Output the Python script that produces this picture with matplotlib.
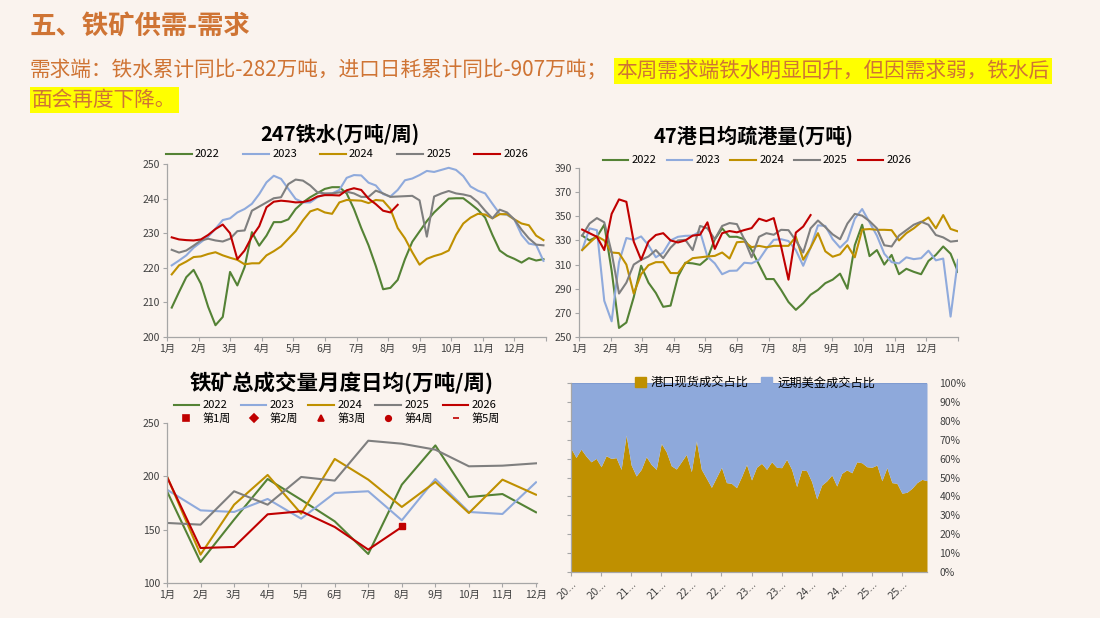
import numpy as np
import matplotlib.pyplot as plt
from matplotlib.lines import Line2D
from matplotlib.patches import Patch

plt.rcParams['font.family'] = ['Noto Sans CJK SC', 'DejaVu Sans']
plt.rcParams['axes.unicode_minus'] = False

W, H = 1100, 618
BG = '#FAF3EE'
TXT = '#CF7434'
AX_C = '#A6A6A6'
LAB_C = '#404040'

years = ['2022', '2023', '2024', '2025', '2026']
colors = ['#548235', '#8FAADC', '#BF9000', '#7F7F7F', '#C00000']
months = ['1月', '2月', '3月', '4月', '5月', '6月', '7月', '8月', '9月', '10月', '11月', '12月']

# 247铁水 weekly (万吨/周)
hm_2022 = [208.5, 213, 217.3, 219.4, 215.4, 208.7, 203.4, 205.8, 218.8, 214.9,
           220.2, 230.3, 226.4, 229.3, 233.2, 233.2, 234, 237, 238.9, 240.4,
           241.6, 242.8, 243.3, 243.3, 241.5, 237, 231.5, 226.5, 220.5, 213.8,
           214.2, 216.5, 222.5, 227.5, 230.5, 233.5, 236, 238, 240, 240.1,
           240.1, 238.5, 236.8, 234.5, 229.5, 225, 223.5, 222.6, 221.5, 222.8,
           222.1, 222.5]
hm_2023 = [220.7, 222.1, 223.6, 225.8, 227.4, 229, 231.3, 233.8, 234.3, 236,
           237, 238.5, 241.3, 244.7, 246.6, 245.7, 242.8, 239.9, 238.9, 238.9,
           240.4, 241.3, 241.5, 242.5, 246, 246.8, 246.7, 244.6, 243.8, 241.3,
           240.6, 242.5, 245.3, 245.8, 246.8, 248, 247.7, 248.3, 248.9, 248.3,
           246.5, 243.5, 242.3, 241.5, 238.5, 235.6, 235.3, 234, 229.5, 227,
           226.6, 222]
hm_2024 = [218.1, 220.7, 221.8, 223.1, 223.3, 224, 224.5, 223.6, 222.9, 222.3,
           221, 221.3, 221.3, 223.6, 224.8, 226.2, 228.4, 230.6, 233.7, 236.3,
           237, 236, 235.6, 238.9, 239.6, 239.5, 239.4, 238.7, 239.6, 239.4,
           237, 231.5, 228.5, 224.5, 220.9, 222.6, 223.4, 224, 225, 229.5,
           232.8, 234.5, 235.6, 235.4, 234.3, 235.5, 235.5, 234, 232.8, 232.3,
           229.3, 228]
hm_2025 = [225.2, 224.4, 225, 226.4, 227.9, 228.4, 227.9, 227.6, 228.4, 230.6,
           230.8, 236.5, 237.7, 238.9, 240.1, 240.4, 244.2, 245.5, 245.2, 243.8,
           241.8, 241.5, 241.5, 241.8, 242, 241.5, 240.5, 240.5, 242.3, 241.5,
           240.5, 240.6, 240.7, 240.8, 239.5, 229, 240.6, 241.5, 242.2, 241.5,
           241.2, 240.7, 239, 236.5, 234.3, 236.8, 236, 234, 231, 228.5,
           226.7, 226.5]
hm_2026 = [228.8, 228.2, 228, 227.9, 228.2, 229.5, 231.2, 232.5, 230, 222.5,
           225, 229, 232, 237.5, 239.1, 239.4, 239.2, 238.9, 239, 239.5,
           240.6, 241, 241, 240.9, 242.4, 243, 242.5, 240, 238.4, 236.5,
           236, 238.2]

# 47港日均疏港量 weekly (万吨)
port_2022 = [334, 330, 333, 343, 305, 257.5, 262, 283, 309, 295,
             286.5, 275, 276, 300, 311.5, 311, 309.8, 315, 331, 340,
             333, 333, 331, 322, 310, 298, 298, 289, 279, 272.5,
             278, 285, 289, 294.6, 297.5, 302.5, 290, 326, 343, 317,
             322, 310, 318, 302, 306.5, 304, 302, 313, 318, 325,
             319, 304]
port_2023 = [322, 340, 338.5, 280, 263, 312, 332, 330.5, 333.3, 326,
             316, 320, 330, 333, 333.8, 334, 337.4, 316.5, 311, 302,
             304.8, 305, 311.5, 311, 314, 323, 330.5, 331, 329.5, 322,
             309, 324, 342.5, 342, 331, 324, 330, 348, 356, 345,
             334, 319, 312, 311, 316, 314.5, 315.3, 321.5, 313.5, 315,
             266.9, 313.9]
port_2024 = [322, 328, 333.5, 330, 320, 319.5, 310, 286, 302, 309.5,
             312, 312, 303, 302.9, 311, 315.3, 316, 316.7, 317.2, 320,
             315, 328.5, 329, 324.4, 325.5, 324.3, 325.5, 325.5, 325.5, 333,
             314, 324, 336, 321, 316.5, 318.5, 326, 316, 339, 339.4,
             338.8, 338.8, 338.5, 330, 336, 340, 345, 349, 340, 351,
             339.5, 337.5]
port_2025 = [334, 344, 348.5, 345, 320, 286, 295, 310, 313.9, 316.7,
             322, 315.3, 324, 330, 330.5, 322, 342, 340, 331, 342,
             344.4, 343.5, 331, 316, 333, 336, 334.7, 338.8, 338.5, 330,
             320, 340, 346.5, 341, 335, 331, 344, 352, 350.5, 346,
             340, 326, 325, 334, 338.5, 343, 345.5, 343, 334.5, 332.5,
             329, 329.7]
port_2026 = [339, 336, 333, 322, 352, 364, 362, 329, 314, 329,
             334.5, 336, 330, 328.3, 330, 334, 334.7, 345, 323, 336,
             337.8, 336.7, 338.6, 340.2, 348, 346, 348.5, 325, 297.5, 336.5,
             341.5, 351]

# 铁矿总成交量月度日均 (万吨/周)
vol_2022 = [186, 119.7, 159.4, 197.5, 178, 157.8, 127.2, 192.2, 229, 180.6, 183.4, 166.3]
vol_2023 = [187.5, 168.1, 166.6, 178.8, 160.3, 184.4, 186, 158.8, 197.5, 166.6, 164.7, 194.4]
vol_2024 = [200, 126.6, 173.4, 201.3, 165, 216.3, 196.9, 171.3, 194.7, 165.6, 196.9, 182.8]
vol_2025 = [156.3, 154.7, 186, 173.4, 199.4, 196, 233.4, 230.6, 225, 209.4, 210, 212.2]
vol_2026 = [199.4, 132.8, 133.8, 164.4, 167.2, 152.5, 131.3, 152.5]
week_labels = ['第1周', '第2周', '第3周', '第4周', '第5周']
week_markers = ['s', 'D', '^', 'o', '_']
wk1_month = [7]
wk1_val = [153]

# 港口现货成交占比 (%), monthly
spot_share = [65.4, 60.6, 65, 61.3, 58.3, 60.1, 55.7, 61.5, 60.1, 60.5,
              54.3, 72.4, 56.6, 50.8, 54.3, 61, 56.9, 54.3, 68, 63.6,
              56.2, 54.5, 58.3, 62.2, 53.1, 69.4, 54.3, 49.6, 44.8, 50.1,
              55.4, 47.3, 46.9, 44.6, 50.4, 56.9, 48.7, 55.4, 57.5, 54.3,
              58.3, 55.4, 55.2, 59.6, 54.3, 45.2, 54, 53.6, 47.8, 38.7,
              46, 48.2, 51.3, 45.5, 52.2, 54, 52.5, 58.3, 57.8, 55.7,
              55.4, 56.6, 48.3, 55.2, 47.3, 46.9, 41.7, 42.2, 44.3, 47.3,
              49, 48.3]
share_ticks = ['20…', '20…', '21…', '21…', '22…', '22…', '23…', '23…', '24…', '24…', '25…', '25…']


def px(x0, y0, x1, y1):
    return [x0 / W, 1 - y1 / H, (x1 - x0) / W, (y1 - y0) / H]


def style_axis(ax):
    for s in ('top', 'right'):
        ax.spines[s].set_visible(False)
    for s in ('left', 'bottom'):
        ax.spines[s].set_color(AX_C)
        ax.spines[s].set_linewidth(0.9)
    ax.tick_params(colors=AX_C, labelcolor=LAB_C, labelsize=7.5, length=3, width=0.8, pad=2)
    ax.set_facecolor('none')


fig = plt.figure(figsize=(11, 6.18), dpi=100, facecolor=BG)

# header
fig.text(30 / W, 1 - 27 / H, '五、铁矿供需-需求', fontsize=19, fontweight='bold',
         color=TXT, va='center')
renderer = fig.canvas.get_renderer()
t1 = fig.text(30 / W, 1 - 71 / H, '需求端：铁水累计同比-282万吨，进口日耗累计同比-907万吨；',
              fontsize=14.9, color=TXT, va='center')
bb = t1.get_window_extent(renderer)
hl = dict(boxstyle='square,pad=0.12', fc='#FFFF00', ec='none')
fig.text(bb.x1 / W + 8 / W, 1 - 71 / H, '本周需求端铁水明显回升，但因需求弱，铁水后',
         fontsize=14.9, color=TXT, va='center', bbox=hl)
fig.text(32 / W, 1 - 100 / H, '面会再度下降。', fontsize=14.9, color=TXT, va='center', bbox=hl)

# chart 1: 247铁水
ax1 = fig.add_axes(px(167, 164, 546, 337))
style_axis(ax1)
wx1 = 0.15 + np.arange(52) * 12 / 52
for vals, c, yr in zip([hm_2022, hm_2023, hm_2024, hm_2025, hm_2026], colors, years):
    ax1.plot(wx1[:len(vals)], vals, color=c, lw=1.5, label=yr)
ax1.set_xlim(0, 12)
ax1.set_ylim(200, 250)
ax1.set_yticks(range(200, 251, 10))
ax1.set_xticks(range(13))
ax1.set_xticklabels(months + [''])
ax1.text(0.456, 1.17, '247铁水(万吨/周)', transform=ax1.transAxes, ha='center', va='center',
         fontsize=14.5, fontweight='bold', color='black')
ax1.legend(loc='center', bbox_to_anchor=(0.475, 1.055), ncol=5, frameon=False, fontsize=8,
           handlelength=2.3, handletextpad=0.3, columnspacing=2.1)

# chart 2: 47港日均疏港量
ax2 = fig.add_axes(px(579, 168, 958, 337))
style_axis(ax2)
wx2 = 0.1 + np.arange(52) * 0.2333
for vals, c, yr in zip([port_2022, port_2023, port_2024, port_2025, port_2026], colors, years):
    ax2.plot(wx2[:len(vals)], vals, color=c, lw=1.5, label=yr)
ax2.set_xlim(0, 12)
ax2.set_ylim(250, 390)
ax2.set_yticks(range(250, 391, 20))
ax2.set_xticks(range(13))
ax2.set_xticklabels(months + [''])
ax2.text(0.462, 1.19, '47港日均疏港量(万吨)', transform=ax2.transAxes, ha='center', va='center',
         fontsize=14.5, fontweight='bold', color='black')
ax2.legend(loc='center', bbox_to_anchor=(0.47, 1.045), ncol=5, frameon=False, fontsize=8,
           handlelength=2.3, handletextpad=0.3, columnspacing=0.9)

# chart 3: 铁矿总成交量月度日均
ax3 = fig.add_axes(px(167, 423, 537, 583))
style_axis(ax3)
mx = np.arange(12)
year_handles = []
for vals, c, yr in zip([vol_2022, vol_2023, vol_2024, vol_2025, vol_2026], colors, years):
    h, = ax3.plot(mx[:len(vals)], vals, color=c, lw=1.5, label=yr)
    year_handles.append(h)
ax3.plot(wk1_month, wk1_val, ls='none', marker='s', ms=5, color='#C00000')
ax3.set_xlim(0, 11.03)
ax3.set_ylim(100, 250)
ax3.set_yticks(range(100, 251, 50))
ax3.set_xticks(range(12))
ax3.set_xticklabels(months)
ax3.text(0.4725, 1.25, '铁矿总成交量月度日均(万吨/周)', transform=ax3.transAxes, ha='center',
         va='center', fontsize=15.5, fontweight='bold', color='black')
week_handles = [Line2D([], [], ls='none', marker=m, ms=4 if m != 's' else 4.5,
                       color='#C00000', mew=1.2) for m in week_markers]
handles, labels = [], []
for yh, yr, wh, wl in zip(year_handles, years, week_handles, week_labels):
    handles += [yh, wh]
    labels += [yr, wl]
ax3.legend(handles, labels, loc='center', bbox_to_anchor=(0.459, 1.0675), ncol=5,
           frameon=False, fontsize=8, handlelength=2.3, handletextpad=0.3,
           columnspacing=0.9, labelspacing=0.25)

# chart 4: 成交占比
ax4 = fig.add_axes(px(571, 383, 927, 572))
style_axis(ax4)
ix = np.arange(len(spot_share))
ax4.fill_between(ix, 0, spot_share, color='#BF9000', lw=0)
ax4.fill_between(ix, spot_share, 100, color='#8EA9DB', lw=0)
ax4.axhline(100, color='#7F9BD0', lw=0.8)
ax4.set_xlim(0, len(spot_share) - 1)
ax4.set_ylim(0, 100)
ax4.set_yticks(range(0, 101, 10))
ax4.set_yticklabels([f'{v}%' for v in range(0, 101, 10)])
ax4.tick_params(axis='y', left=True, right=False, labelleft=False, labelright=True, pad=6)
ax4.set_xticks(np.arange(0, len(spot_share), 6))
ax4.set_xticklabels(share_ticks, rotation=45, ha='right', rotation_mode='anchor',
                    family=['DejaVu Sans'], fontsize=7)
ax4.legend([Patch(color='#BF9000'), Patch(color='#8EA9DB')], ['港口现货成交占比', '远期美金成交占比'],
           loc='center', bbox_to_anchor=(0.517, 1.0), ncol=2, frameon=False, fontsize=8.8,
           handlelength=0.9, handleheight=0.9, handletextpad=0.4, columnspacing=1.0)

fig.savefig('out.png', dpi=100, facecolor=BG)
